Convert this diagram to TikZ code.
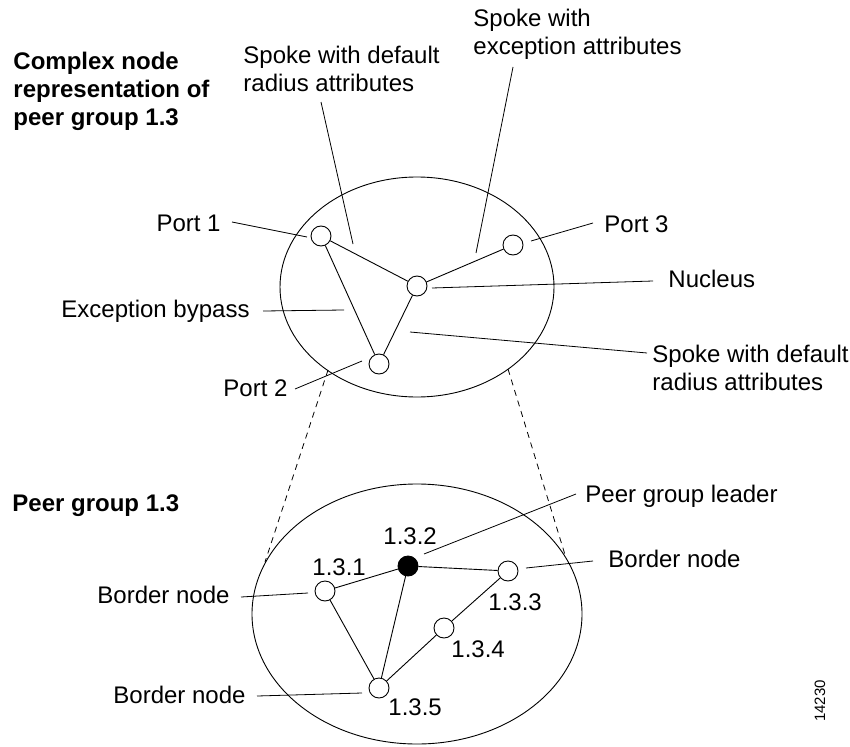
\documentclass[tikz,border=0pt]{standalone}
\usepackage{fontspec}
\setmainfont{Liberation Sans}
\begin{document}
\begin{tikzpicture}[x=1pt,y=-1pt,line width=0.9pt,
  lbl/.style={font=\fontsize{24}{28}\selectfont, inner sep=0pt, align=left},
  ttl/.style={font=\fontsize{24}{28}\selectfont\bfseries, inner sep=0pt, align=left},
  port/.style={circle, draw, fill=white, minimum size=20pt, inner sep=0pt},
  leader/.style={line width=0.8pt},
  guide/.style={line width=0.8pt, dash pattern=on 6pt off 5pt}]
\useasboundingbox (0,0) rectangle (850,746);

% ellipses
\draw (417,287) ellipse [x radius=137pt, y radius=110pt];
\draw (417,614) ellipse [x radius=165pt, y radius=130pt];

% dashed guides
\coordinate (gl1) at (328,370);
\coordinate (gl2) at (265,562);
\coordinate (gr1) at (508,369);
\coordinate (gr2) at (566,558);
\draw[guide] (gl1) -- (gl2);
\draw[guide] (gr1) -- (gr2);

% complex node
\node[port] (p1) at (321,236) {};
\node[port] (p3) at (513,245) {};
\node[port] (nu) at (417,286) {};
\node[port] (p2) at (379,364) {};
\draw (p1) -- (nu);
\draw (p1) -- (p2);
\draw (nu) -- (p3);
\draw (nu) -- (p2);

% peer group
\node[port] (n1) at (325,591) {};
\node[port, fill=black] (n2) at (408,566) {};
\node[port] (n3) at (508,571) {};
\node[port] (n4) at (444,628) {};
\node[port] (n5) at (379,688) {};
\draw (n1) -- (n2);
\draw (n2) -- (n3);
\draw (n1) -- (n5);
\draw (n2) -- (n5);
\draw (n3) -- (n4);
\draw (n4) -- (n5);

% texts (multi-line nodes: base anchor = last line)
\node[ttl, anchor=base west] (title) at (13,126) {Complex node\\representation of\\peer group 1.3};
\node[ttl, anchor=base west] (pgt) at (12,511) {Peer group 1.3};
\node[lbl, anchor=base west] (tspk) at (243,92) {Spoke with default\\radius attributes};
\node[lbl, anchor=base west] (tspe) at (473,55) {Spoke with\\exception attributes};
\node[lbl, anchor=base east] (tp1) at (221,231) {Port 1};
\node[lbl, anchor=base west] (tp3) at (604,232) {Port 3};
\node[lbl, anchor=base west] (tnu) at (668,287) {Nucleus};
\node[lbl, anchor=base east] (teb) at (250,317) {Exception bypass};
\node[lbl, anchor=base west] (tspl) at (652,390) {Spoke with default\\radius attributes};
\node[lbl, anchor=base west] (tp2) at (223,396) {Port 2};
\node[lbl, anchor=base west] (tpgl) at (585,502) {Peer group leader};
\node[lbl, anchor=base west] (tbr) at (608,567) {Border node};
\node[lbl, anchor=base east] (tbl) at (230,603) {Border node};
\node[lbl, anchor=base east] (tbb) at (246,703) {Border node};
\node[lbl, anchor=base west] (l1) at (312,575) {1.3.1};
\node[lbl, anchor=base west] (l2) at (383,544) {1.3.2};
\node[lbl, anchor=base west] (l3) at (488,610) {1.3.3};
\node[lbl, anchor=base west] (l4) at (451,657) {1.3.4};
\node[lbl, anchor=base west] (l5) at (388,715) {1.3.5};
\node[font=\fontsize{15}{18}\selectfont, inner sep=0pt, rotate=90] (fig) at (820,701) {14230};

% leader lines
\coordinate (a1) at (232,222);  \coordinate (b1) at (307,237);
\coordinate (a2) at (321,102);  \coordinate (b2) at (353,244);
\coordinate (a3) at (513,67);   \coordinate (b3) at (476,253);
\coordinate (a4) at (593,223);  \coordinate (b4) at (531,241);
\coordinate (a5) at (653,281);  \coordinate (b5) at (432,288);
\coordinate (a6) at (263,311);  \coordinate (b6) at (344,310);
\coordinate (a7) at (647,353);  \coordinate (b7) at (410,332);
\coordinate (a8) at (295,389);  \coordinate (b8) at (362,361);
\coordinate (a9) at (576,494);  \coordinate (b9) at (424,554);
\coordinate (a10) at (593,561); \coordinate (b10) at (526,568);
\coordinate (a11) at (241,597); \coordinate (b11) at (308,593);
\coordinate (a12) at (257,696); \coordinate (b12) at (362,693);
\foreach \i in {1,...,12} {\draw[leader] (a\i) -- (b\i);}
\end{tikzpicture}
\end{document}
